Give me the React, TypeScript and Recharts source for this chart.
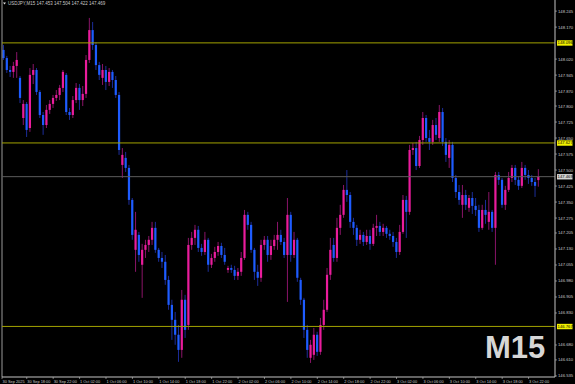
import React from 'react';
import { ComposedChart, Bar, XAxis, YAxis, ReferenceLine } from 'recharts';

const opens = [
  148.063, 148.025, 147.969, 147.960, 147.988, 147.932, 147.744, 147.810, 147.697, 147.946,
  147.969, 147.866, 147.758, 147.711, 147.782, 147.810, 147.838, 147.852, 147.885, 147.946,
  147.772, 147.758, 147.828, 147.885, 147.828, 147.857, 148.016, 148.156, 148.086, 147.992,
  147.932, 147.969, 147.913, 147.960, 147.922, 147.852, 147.524, 147.557, 147.510, 147.360,
  147.126, 147.196, 147.056, 147.126, 147.149, 147.173, 147.229, 147.126, 147.088, 147.070,
  146.985, 146.868, 146.798, 146.728, 146.657, 146.892, 146.774, 147.149, 147.182, 147.220,
  147.135, 147.116, 147.173, 147.056, 147.088, 147.116, 147.144, 147.102, 147.032, 147.041,
  147.032, 147.004, 147.023, 147.088, 147.290, 147.243, 147.126, 147.023, 146.995, 147.149,
  147.173, 147.102, 147.144, 147.173, 147.196, 147.163, 147.102, 147.290, 147.102, 147.173,
  146.985, 146.892, 146.751, 146.620, 146.634, 146.728, 146.648, 146.774, 146.845, 147.009,
  147.149, 147.088, 147.229, 147.290, 147.407, 147.383, 147.257, 147.229, 147.173, 147.196,
  147.163, 147.191, 147.154, 147.229, 147.238, 147.210, 147.229, 147.201, 147.191, 147.163,
  147.116, 147.210, 147.360, 147.304, 147.594, 147.603, 147.519, 147.641, 147.744, 147.650,
  147.632, 147.711, 147.650, 147.772, 147.632, 147.557, 147.618, 147.463, 147.397, 147.337,
  147.383, 147.323, 147.369, 147.332, 147.313, 147.229, 147.313, 147.257, 147.304, 147.229,
  147.477, 147.454, 147.337, 147.407, 147.463, 147.510, 147.454, 147.426, 147.510, 147.477,
  147.463, 147.444, 147.453,
];

const highs = [
  148.086, 148.035, 147.988, 148.007, 148.053, 147.941, 147.828, 147.819, 147.978, 147.997,
  147.978, 147.875, 147.772, 147.805, 147.828, 147.852, 147.875, 147.899, 147.969, 147.955,
  147.791, 147.847, 147.908, 147.903, 147.894, 148.039, 148.213, 148.194, 148.100, 148.007,
  147.997, 147.988, 147.978, 147.969, 147.941, 147.866, 147.603, 147.585, 147.524, 147.369,
  147.304, 147.210, 147.154, 147.173, 147.191, 147.257, 147.257, 147.135, 147.116, 147.102,
  147.004, 146.892, 146.835, 146.774, 146.938, 146.915, 147.182, 147.210, 147.243, 147.238,
  147.154, 147.210, 147.182, 147.107, 147.140, 147.163, 147.159, 147.135, 147.051, 147.056,
  147.051, 147.041, 147.116, 147.313, 147.304, 147.257, 147.135, 147.056, 147.173, 147.191,
  147.191, 147.173, 147.196, 147.257, 147.220, 147.182, 147.369, 147.304, 147.210, 147.182,
  146.995, 146.901, 146.774, 146.704, 146.760, 146.742, 146.807, 146.892, 147.041, 147.182,
  147.182, 147.276, 147.337, 147.430, 147.500, 147.397, 147.276, 147.243, 147.220, 147.210,
  147.220, 147.220, 147.248, 147.290, 147.257, 147.248, 147.238, 147.220, 147.210, 147.182,
  147.243, 147.383, 147.379, 147.618, 147.627, 147.632, 147.660, 147.772, 147.758, 147.688,
  147.735, 147.744, 147.805, 147.791, 147.650, 147.641, 147.632, 147.477, 147.430, 147.430,
  147.407, 147.383, 147.397, 147.369, 147.337, 147.337, 147.360, 147.397, 147.313, 147.491,
  147.491, 147.463, 147.426, 147.491, 147.524, 147.524, 147.472, 147.538, 147.524, 147.500,
  147.477, 147.463, 147.504,
];

const lows = [
  148.016, 147.955, 147.936, 147.932, 147.932, 147.814, 147.711, 147.655, 147.679, 147.903,
  147.852, 147.744, 147.665, 147.697, 147.763, 147.791, 147.824, 147.828, 147.866, 147.758,
  147.735, 147.744, 147.814, 147.782, 147.800, 147.838, 148.002, 148.063, 147.969, 147.922,
  147.899, 147.875, 147.894, 147.885, 147.838, 147.571, 147.463, 147.491, 147.337, 147.173,
  147.023, 147.070, 146.901, 147.088, 147.116, 147.149, 147.112, 147.070, 147.041, 146.962,
  146.845, 146.704, 146.681, 146.601, 146.620, 146.713, 146.751, 147.126, 147.149, 147.116,
  147.098, 147.102, 147.023, 147.041, 147.070, 147.098, 147.088, 147.056, 147.018, 147.018,
  146.985, 146.985, 147.004, 147.079, 147.220, 147.112, 146.985, 146.957, 146.976, 147.126,
  147.070, 147.079, 147.126, 147.126, 147.149, 147.088, 146.882, 147.070, 147.088, 146.976,
  146.868, 146.713, 146.620, 146.596, 146.610, 146.629, 146.634, 146.751, 146.835, 146.985,
  147.070, 147.070, 147.196, 147.276, 147.351, 147.229, 147.196, 147.144, 147.154, 147.144,
  147.149, 147.126, 147.144, 147.191, 147.191, 147.191, 147.182, 147.173, 147.140, 147.088,
  147.102, 147.201, 147.182, 147.290, 147.571, 147.500, 147.510, 147.618, 147.632, 147.594,
  147.618, 147.641, 147.632, 147.613, 147.538, 147.510, 147.444, 147.369, 147.337, 147.276,
  147.313, 147.304, 147.294, 147.285, 147.210, 147.220, 147.248, 147.220, 147.210, 147.056,
  147.430, 147.323, 147.313, 147.397, 147.444, 147.430, 147.407, 147.416, 147.454, 147.435,
  147.426, 147.374, 147.422,
];

const closes = [
  148.025, 147.969, 147.960, 147.988, 148.016, 147.838, 147.810, 147.688, 147.946, 147.969,
  147.866, 147.758, 147.711, 147.782, 147.810, 147.838, 147.852, 147.885, 147.960, 147.772,
  147.758, 147.828, 147.885, 147.828, 147.857, 148.016, 148.156, 148.086, 147.992, 147.946,
  147.969, 147.913, 147.960, 147.922, 147.852, 147.594, 147.571, 147.510, 147.360, 147.196,
  147.220, 147.102, 147.126, 147.149, 147.173, 147.229, 147.126, 147.088, 147.070, 146.985,
  146.868, 146.798, 146.728, 146.657, 146.892, 146.751, 147.149, 147.182, 147.220, 147.135,
  147.116, 147.173, 147.056, 147.088, 147.116, 147.144, 147.102, 147.070, 147.041, 147.032,
  147.004, 147.023, 147.088, 147.290, 147.243, 147.126, 147.023, 146.995, 147.149, 147.173,
  147.102, 147.144, 147.173, 147.196, 147.163, 147.102, 147.290, 147.102, 147.173, 146.995,
  146.892, 146.751, 146.657, 146.681, 146.728, 146.648, 146.774, 146.845, 147.009, 147.126,
  147.088, 147.229, 147.290, 147.407, 147.383, 147.257, 147.229, 147.173, 147.196, 147.163,
  147.191, 147.154, 147.229, 147.238, 147.210, 147.229, 147.201, 147.191, 147.163, 147.116,
  147.210, 147.360, 147.304, 147.594, 147.603, 147.519, 147.641, 147.744, 147.650, 147.632,
  147.711, 147.665, 147.772, 147.632, 147.571, 147.618, 147.463, 147.397, 147.360, 147.383,
  147.337, 147.369, 147.332, 147.313, 147.229, 147.313, 147.290, 147.304, 147.229, 147.477,
  147.454, 147.337, 147.407, 147.463, 147.510, 147.454, 147.426, 147.510, 147.477, 147.463,
  147.444, 147.426, 147.469,
];

const timeTickIndex = [-0.5, 7, 15, 23, 31, 39, 47, 55, 63, 71, 79, 87, 95, 103, 111, 119, 127, 135, 143, 151, 159];
const timeTickLabels = [
  '30 Sep 2025', '30 Sep 18:00', '30 Sep 22:00', '1 Oct 02:00', '1 Oct 06:00', '1 Oct 10:00',
  '1 Oct 14:00', '1 Oct 18:00', '1 Oct 22:00', '2 Oct 02:00', '2 Oct 06:00', '2 Oct 10:00',
  '2 Oct 14:00', '2 Oct 18:00', '2 Oct 22:00', '3 Oct 02:00', '3 Oct 06:00', '3 Oct 10:00',
  '3 Oct 14:00', '3 Oct 18:00', '3 Oct 22:00',
];

const priceTicks = [
  148.245, 148.170, 148.020, 147.945, 147.870, 147.800, 147.725, 147.650, 147.575, 147.500,
  147.425, 147.350, 147.275, 147.205, 147.130, 147.055, 146.980, 146.905, 146.830, 146.680,
  146.610, 146.535,
];

const levelLines = [148.096, 147.627, 146.767];
const currentPrice = 147.469;
const symbol = 'USDJPY,M15';
const lastBar = [147.453, 147.504, 147.422, 147.469];
const timeframe = 'M15';

const data = opens.map((o, i) => ({ i, o, h: highs[i], l: lows[i], c: closes[i] }));

const UP_BODY = '#ea1c9c';
const UP_WICK = '#8a1468';
const DN_BODY = '#1e5cff';
const DN_WICK = '#1c2d9a';
const AXIS = '#c4c4c4';
const TXT = '#c8c8c8';
const FONT = 'Liberation Sans, Arial, sans-serif';

const Candle = (props: any) => {
  const { x, y, width, height, payload } = props;
  if (!payload) return null;
  const { o, h, l, c } = payload;
  const top = Math.min(y, y + height);
  const hh = Math.abs(height);
  const range = h - l;
  const ppu = range > 0 ? hh / range : 0;
  const yp = (p: number) => top + (h - p) * ppu;
  const cx = x + width / 2;
  const up = c >= o;
  const bTop = yp(Math.max(o, c));
  const bBot = yp(Math.min(o, c));
  const bh = Math.max(1, bBot - bTop);
  return (
    <g>
      <line x1={cx} x2={cx} y1={top} y2={top + hh} stroke={up ? UP_WICK : DN_WICK} strokeWidth={1} />
      <rect x={cx - 1.1} y={bTop} width={2.2} height={bh} fill={up ? UP_BODY : DN_BODY} />
    </g>
  );
};

const TimeTick = (props: any) => {
  const { x, y, payload } = props;
  const idx = timeTickIndex.indexOf(payload.value);
  const label = idx >= 0 ? timeTickLabels[idx] : '';
  return (
    <g>
      <line x1={x} x2={x} y1={y} y2={y + 2} stroke={AXIS} strokeWidth={0.6} />
      <text x={x + 0.5} y={y + 6} fontSize={3.9} fill={TXT} fontFamily={FONT} textAnchor="start">
        {label}
      </text>
    </g>
  );
};

const PriceTick = (props: any) => {
  const { x, y, payload } = props;
  return (
    <g>
      <line x1={x} x2={x + 2} y1={y} y2={y} stroke={AXIS} strokeWidth={0.6} />
      <text x={x + 3} y={y + 1.5} fontSize={4.2} fill={TXT} fontFamily={FONT} textAnchor="start">
        {payload.value.toFixed(3)}
      </text>
    </g>
  );
};

const makePriceBox = (value: number, bg: string) => (props: any) => {
  const vb = props.viewBox || {};
  const x = (vb.x ?? 0) + (vb.width ?? 0);
  const y = vb.y ?? 0;
  return (
    <g>
      <rect x={x + 2} y={y - 2.6} width={15.5} height={5.4} fill={bg} />
      <text x={x + 2.6} y={y + 1.5} fontSize={4.2} fill="#000" fontFamily={FONT}>
        {value.toFixed(3)}
      </text>
    </g>
  );
};

export default function App() {
  return (
    <div
      style={{
        position: 'absolute',
        left: 0,
        top: 0,
        width: 575,
        height: 384,
        background: '#000',
        overflow: 'hidden',
      }}
    >
      <ComposedChart
        width={575}
        height={384}
        data={data}
        margin={{ top: 0, right: 0, bottom: 0, left: 2 }}
        style={{ position: 'absolute', left: 0, top: 0 }}
      >
        <XAxis
          dataKey="i"
          type="number"
          domain={[-0.5, 167]}
          allowDataOverflow
          ticks={timeTickIndex}
          interval={0}
          tick={<TimeTick />}
          tickLine={false}
          tickSize={0}
          tickMargin={0}
          height={7}
          axisLine={{ stroke: AXIS, strokeWidth: 1 }}
        />
        <YAxis
          orientation="right"
          type="number"
          domain={[146.53, 148.297]}
          allowDataOverflow
          ticks={priceTicks}
          interval={0}
          tick={<PriceTick />}
          tickLine={false}
          tickSize={0}
          tickMargin={0}
          width={20}
          axisLine={{ stroke: AXIS, strokeWidth: 1 }}
        />
        <ReferenceLine x={-0.5} stroke="#9a9a9a" strokeWidth={1} />
        <ReferenceLine
          y={currentPrice}
          stroke="#5c5c5c"
          strokeWidth={1}
          label={makePriceBox(currentPrice, '#d4d4d4')}
        />
        {levelLines.map((v) => (
          <ReferenceLine
            key={v}
            y={v}
            stroke="#a3a300"
            strokeWidth={1}
            label={makePriceBox(v, '#f2f200')}
          />
        ))}
        <Bar
          dataKey={(d: any) => [d.l, d.h]}
          barSize={3}
          shape={(p: any) => <Candle {...p} />}
          isAnimationActive={false}
        />
      </ComposedChart>
      <svg width={575} height={384} style={{ position: 'absolute', left: 0, top: 0, pointerEvents: 'none' }}>
        <path d="M3 2.5 L6 2.5 L4.5 4.5 Z" fill="#e0e0e0" />
        <text x={8} y={5} fontSize={4.5} fill={TXT} fontFamily={FONT}>
          {symbol + '  ' + lastBar.map((v) => v.toFixed(3)).join(' ')}
        </text>
        <text x={485} y={358} fontSize={31} fontWeight="bold" fill="#d6d6d6" fontFamily={FONT}>
          {timeframe}
        </text>
      </svg>
    </div>
  );
}
